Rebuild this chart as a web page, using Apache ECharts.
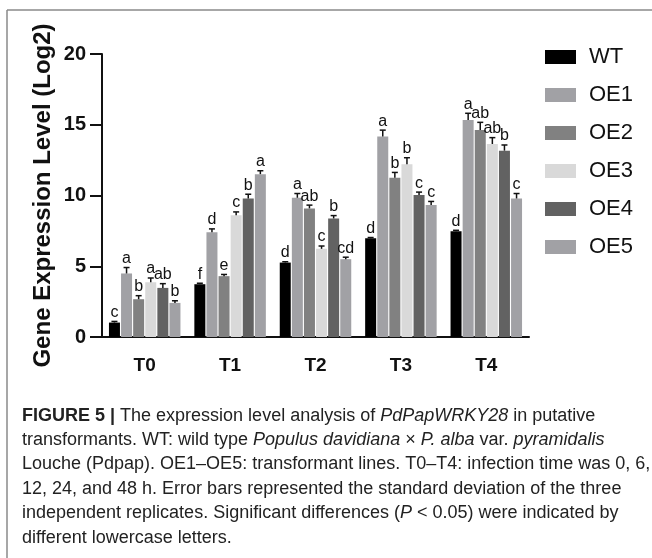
<!DOCTYPE html>
<html><head><meta charset="utf-8">
<script src="https://cdn.jsdelivr.net/npm/echarts@6/dist/echarts.min.js"></script>
<style>html,body{margin:0;padding:0;background:#fff}#c{width:652px;height:558px}</style>
</head><body><div id="c"></div>
<script>
// ---- data ----
const categories = ['T0', 'T1', 'T2', 'T3', 'T4'];
const seriesNames = ['WT', 'OE1', 'OE2', 'OE3', 'OE4', 'OE5'];
const valWT  = [1.02, 3.73, 5.26, 6.97, 7.48];
const valOE1 = [4.49, 7.41, 9.84, 14.17, 15.34];
const valOE2 = [2.67, 4.30, 9.09, 11.25, 14.63];
const valOE3 = [3.87, 8.61, 6.23, 12.20, 13.64];
const valOE4 = [3.47, 9.79, 8.38, 10.03, 13.17];
const valOE5 = [2.41, 11.51, 5.50, 9.32, 9.79];
const errWT  = [0.08, 0.07, 0.06, 0.06, 0.06];
const errOE1 = [0.42, 0.23, 0.30, 0.45, 0.47];
const errOE2 = [0.25, 0.12, 0.23, 0.38, 0.54];
const errOE3 = [0.30, 0.23, 0.20, 0.47, 0.45];
const errOE4 = [0.30, 0.30, 0.20, 0.21, 0.40];
const errOE5 = [0.15, 0.24, 0.14, 0.26, 0.35];
const letWT  = ['c', 'f', 'd', 'd', 'd'];
const letOE1 = ['a', 'd', 'a', 'a', 'a'];
const letOE2 = ['b', 'e', 'ab', 'b', 'ab'];
const letOE3 = ['a', 'c', 'c', 'b', 'ab'];
const letOE4 = ['ab', 'b', 'b', 'c', 'b'];
const letOE5 = ['b', 'a', 'cd', 'c', 'c'];
const yTicks = [0, 5, 10, 15, 20];
const colors = ['#000000', '#a1a1a5', '#818181', '#d9d9d9', '#626262', '#a1a1a5'];

const values = [valWT, valOE1, valOE2, valOE3, valOE4, valOE5];
const errors = [errWT, errOE1, errOE2, errOE3, errOE4, errOE5];
const letters = [letWT, letOE1, letOE2, letOE3, letOE4, letOE5];

const FF = '"Liberation Sans", Arial, Helvetica, sans-serif';
const BAR_W = 11, BAR_GAP = '10%';

const chart = echarts.init(document.getElementById('c'), null, {renderer: 'canvas'});

const barSeries = seriesNames.map((n, i) => ({
  name: n, type: 'bar', data: values[i], barWidth: BAR_W, barGap: BAR_GAP,
  itemStyle: {color: colors[i]}, z: 2, animation: false
}));

const errData = [];
seriesNames.forEach((n, s) => categories.forEach((c, k) => errData.push([k, s, values[s][k], errors[s][k]])));

const errSeries = {
  type: 'custom', z: 5, animation: false, silent: true,
  data: errData,
  renderItem: function (params, api) {
    const k = api.value(0), s = api.value(1), v = api.value(2), e = api.value(3);
    let off;
    const lay = api.barLayout ? api.barLayout({count: seriesNames.length, barWidth: BAR_W, barGap: BAR_GAP}) : null;
    if (lay && lay[s] && lay[s].offsetCenter != null) off = lay[s].offsetCenter;
    else { const gap = BAR_W * 0.1; off = (s - (seriesNames.length - 1) / 2) * (BAR_W + gap); }
    const p0 = api.coord([k, v]);
    const p1 = api.coord([k, v + e]);
    const x = p0[0] + off;
    return {type: 'group', children: [
      {type: 'line', shape: {x1: x, y1: p0[1], x2: x, y2: p1[1]}, style: {stroke: '#111', lineWidth: 1.5}},
      {type: 'line', shape: {x1: x - 3, y1: p1[1], x2: x + 3, y2: p1[1]}, style: {stroke: '#111', lineWidth: 1.5}},
      {type: 'text', x: x, y: p1[1] - 1, style: {text: letters[s][k], align: 'center', verticalAlign: 'bottom',
        fontSize: 16, fontFamily: FF, fill: '#111'}}
    ]};
  }
};

function captionLine(y, text) {
  const base = {fontSize: 18, fontFamily: FF};
  return {type: 'text', x: 22, y: y, silent: true, style: {
    text: text, fontSize: 18, fontFamily: FF, fill: '#222', verticalAlign: 'middle', align: 'left',
    rich: {
      b: Object.assign({fontWeight: 'bold', fill: '#222'}, base),
      i: Object.assign({fontStyle: 'italic', fill: '#222'}, base)
    }
  }};
}

chart.setOption({
  backgroundColor: '#ffffff',
  animation: false,
  grid: {left: 102, top: 54, width: 427, height: 283, containLabel: false},
  legend: {
    orient: 'vertical', left: 540, top: 40, itemWidth: 31, itemHeight: 14, itemGap: 14,
    icon: 'rect', data: seriesNames, selectedMode: false,
    textStyle: {fontSize: 22, fontFamily: FF, color: '#111', lineHeight: 24, padding: [0, 0, 0, 8]}
  },
  xAxis: {
    type: 'category', data: categories,
    axisLine: {lineStyle: {color: '#111', width: 2}},
    axisTick: {alignWithLabel: true, length: 11, lineStyle: {color: '#111', width: 2}},
    axisLabel: {fontSize: 19, fontWeight: 'bold', fontFamily: FF, color: '#111', margin: 19}
  },
  yAxis: {
    type: 'value', min: yTicks[0], max: yTicks[yTicks.length - 1], interval: yTicks[1] - yTicks[0],
    name: 'Gene Expression Level (Log2)', nameLocation: 'middle', nameRotate: 90, nameGap: 47,
    nameMoveOverlap: false,
    nameTextStyle: {fontSize: 24, fontWeight: 'bold', fontFamily: FF, color: '#111'},
    axisLine: {show: true, lineStyle: {color: '#111', width: 2}},
    axisTick: {show: true, length: 12, lineStyle: {color: '#111', width: 2}},
    axisLabel: {fontSize: 20, fontWeight: 'bold', fontFamily: FF, color: '#111', margin: 16},
    splitLine: {show: false}
  },
  graphic: [
    {type: 'line', silent: true, shape: {x1: 7, y1: 10, x2: 652, y2: 10}, style: {stroke: '#8a8a8a', lineWidth: 1.5}},
    {type: 'line', silent: true, shape: {x1: 7, y1: 10, x2: 7, y2: 558}, style: {stroke: '#8a8a8a', lineWidth: 1.5}},
    captionLine(416, '{b|FIGURE 5 |} The expression level analysis of {i|PdPapWRKY28} in putative'),
    captionLine(440, 'transformants. WT: wild type {i|Populus davidiana} × {i|P. alba} var. {i|pyramidalis}'),
    captionLine(464, 'Louche (Pdpap). OE1–OE5: transformant lines. T0–T4: infection time was 0, 6,'),
    captionLine(489, '12, 24, and 48 h. Error bars represented the standard deviation of the three'),
    captionLine(513, 'independent replicates. Significant differences ({i|P} < 0.05) were indicated by'),
    captionLine(538, 'different lowercase letters.')
  ],
  series: barSeries.concat([errSeries])
});
</script>
</body></html>
